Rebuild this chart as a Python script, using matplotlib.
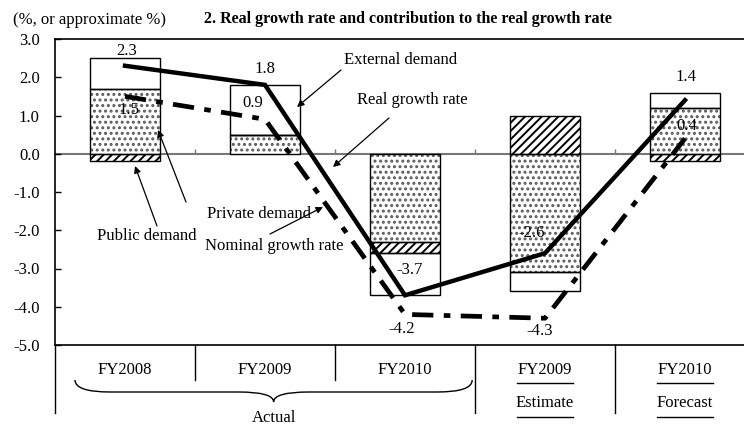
import numpy as np
import matplotlib
matplotlib.use("Agg")
import matplotlib.pyplot as plt
from matplotlib.path import Path
from matplotlib.patches import PathPatch
import matplotlib.transforms as mtransforms

plt.rcParams['font.family'] = ['Liberation Serif', 'DejaVu Serif']
plt.rcParams['hatch.linewidth'] = 1.4

# data
years = ["FY2008", "FY2009", "FY2010", "FY2009", "FY2010"]
sublabels = [None, None, None, "Estimate", "Forecast"]
private_demand = [1.7, 0.5, -2.3, -3.1, 1.2]
public_demand = [-0.2, 0.0, -0.3, 1.0, -0.2]
external_demand = [0.8, 1.3, -1.1, -0.5, 0.4]
real_growth = [2.3, 1.8, -3.7, -2.6, 1.4]
nominal_growth = [1.5, 0.9, -4.2, -4.3, 0.4]

x = np.arange(len(years))
W, H = 744, 426
fig = plt.figure(figsize=(W / 100, H / 100), dpi=100)
# axes run past the right edge like the clipped original
ax = fig.add_axes([55 / W, (H - 345) / H, 700 / W, 306 / H])
ax.set_xlim(-0.5, 4.5)
ax.set_ylim(-5, 3)

# stacking: positives go up, negatives go down
pos_base = np.zeros(len(x))
neg_base = np.zeros(len(x))
bw = 0.5
styles = [(private_demand, '...', '#5a5a5a'),
          (public_demand, '////', 'black'),
          (external_demand, '', 'black')]
for vals, hatch, hc in styles:
    vals = np.array(vals)
    bottoms = np.where(vals >= 0, pos_base, neg_base)
    if hatch:
        ax.bar(x, vals, bw, bottom=bottoms, color='white', edgecolor=hc,
               hatch=hatch, linewidth=0, zorder=2)
    ax.bar(x, vals, bw, bottom=bottoms, fill=False, edgecolor='black',
           linewidth=1.0, zorder=3)
    pos_base = pos_base + np.where(vals >= 0, vals, 0)
    neg_base = neg_base + np.where(vals < 0, vals, 0)

ax.axhline(0, color='#777777', lw=1.5, zorder=1)
ax.vlines(x[:-1] + 0.5, 0, 0.12, color='#777777', lw=1, zorder=1)

ax.plot(x, real_growth, color='black', lw=3.2, zorder=4,
        solid_joinstyle='miter')
ax.plot(x, nominal_growth, color='black', lw=3.4, zorder=4,
        linestyle=(0, (4.5, 2.2, 1.4, 2.2)), dash_capstyle='butt')

fs = 12
real_off = [(2, 15), (0, 16), (5, 25), (-13, 20), (1, 23)]
for xi, v, (dx, dy) in zip(x, real_growth, real_off):
    ax.annotate(f"{v:.1f}", (xi, v), xytext=(dx, dy), textcoords='offset pixels',
                ha='center', va='center', fontsize=fs, zorder=5)
nom_off = [(4, -14), (-12, 16), (-3, -15), (-5, -13), (2, 12)]
for xi, v, (dx, dy) in zip(x, nominal_growth, nom_off):
    ax.annotate(f"{v:.1f}", (xi, v), xytext=(dx, dy), textcoords='offset pixels',
                ha='center', va='center', fontsize=fs, zorder=5)

# callout labels
arrow = dict(arrowstyle='-|>', color='black', lw=0.9, mutation_scale=10,
             shrinkA=0, shrinkB=0)
calls = [("External demand", (344, 60), (341, 70), (297, 107)),
         ("Real growth rate", (357, 100), (389, 118), (333, 167)),
         ("Private demand", (207, 214), (186, 202), (158, 130)),
         ("Public demand", (97, 236), (157, 226), (135, 166)),
         ("Nominal growth rate", (205, 246), (270, 234), (323, 207))]
for txt, tpos, tail, head in calls:
    fig.text(tpos[0] / W, 1 - tpos[1] / H, txt, fontsize=fs, ha='left', va='center')
    ax.annotate('', xy=(head[0] / W, 1 - head[1] / H), xycoords='figure fraction',
                xytext=(tail[0] / W, 1 - tail[1] / H), textcoords='figure fraction',
                arrowprops=arrow)

ax.set_yticks(np.arange(-5, 3.1, 1))
ax.set_yticklabels([f"{t:.1f}" for t in np.arange(-5, 3.1, 1)], fontsize=fs)
ax.tick_params(axis='y', direction='in', length=4, width=1, pad=11)
ax.set_xticks([])
for s in ['left', 'top', 'bottom', 'right']:
    ax.spines[s].set_linewidth(1.2)

fig.text(13 / W, 1 - 20 / H, "(%, or approximate %)", fontsize=fs, va='center')
fig.text(204 / W, 1 - 19 / H,
         "2. Real growth rate and contribution to the real growth rate",
         fontsize=11.5, fontweight='bold', va='center')

# category table under the plot
trans = mtransforms.blended_transform_factory(ax.transData, ax.transAxes)
def ay(yp):
    return (345 - yp) / 306
ax.plot([-0.5, -0.5], [0, ay(413)], transform=trans, color='black', lw=1, clip_on=False)
for b, yb in zip(x[:-1] + 0.5, [380, 380, 413, 413]):
    ax.plot([b, b], [0, ay(yb)], transform=trans, color='black', lw=1, clip_on=False)
for xi, yr, sub in zip(x, years, sublabels):
    ax.text(xi, ay(370), yr, transform=trans, ha='center', va='center', fontsize=fs)
    if sub:
        ax.plot([xi - 0.2, xi + 0.2], [ay(383)] * 2, transform=trans,
                color='black', lw=1, clip_on=False)
        ax.text(xi, ay(403), sub, transform=trans, ha='center', va='center', fontsize=fs)
        ax.plot([xi - 0.2, xi + 0.2], [ay(417)] * 2, transform=trans,
                color='black', lw=1, clip_on=False)

# brace for the actual years
x0, x1 = -0.357, 2.48
xc = (x0 + x1) / 2
yt, ym, yp = ay(380), ay(392), ay(402)
d = 0.25
verts = [(x0, yt), (x0, ym), (x0 + d, ym), (xc - d, ym), (xc, ym), (xc, yp),
         (xc, ym), (xc + d, ym), (x1 - d, ym), (x1, ym), (x1, yt)]
codes = [Path.MOVETO, Path.CURVE3, Path.CURVE3, Path.LINETO, Path.CURVE3, Path.CURVE3,
         Path.CURVE3, Path.CURVE3, Path.LINETO, Path.CURVE3, Path.CURVE3]
ax.add_patch(PathPatch(Path(verts, codes), transform=trans, fill=False,
                       lw=1, color='black', clip_on=False))
ax.text(xc, ay(418), "Actual", transform=trans, ha='center', va='center', fontsize=fs)

fig.savefig("out.png", dpi=100)
